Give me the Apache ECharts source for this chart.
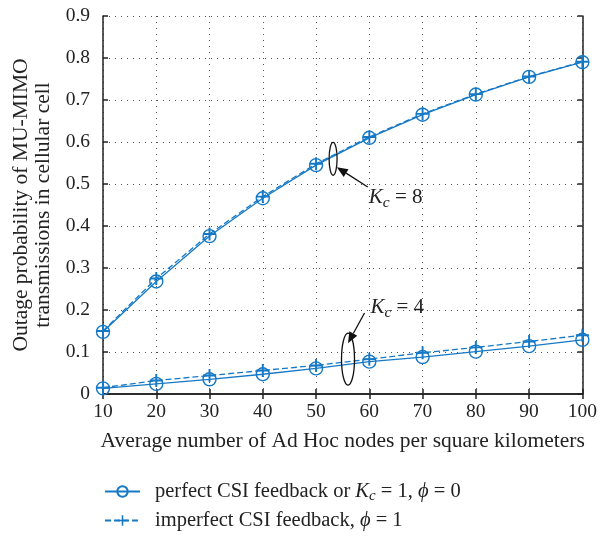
<!DOCTYPE html>
<html><head><meta charset="utf-8">
<script src="https://cdn.jsdelivr.net/npm/echarts@6/dist/echarts.min.js"></script>
<style>html,body{margin:0;padding:0;background:#fff}#c{width:600px;height:537px}</style>
</head><body><div id="c"></div>
<script>
const xValues = [10, 20, 30, 40, 50, 60, 70, 80, 90, 100];
const kc8Perfect   = [0.148, 0.268, 0.376, 0.466, 0.545, 0.610, 0.665, 0.713, 0.755, 0.790];
const kc8Imperfect = [0.150, 0.275, 0.381, 0.470, 0.548, 0.612, 0.667, 0.714, 0.756, 0.791];
const kc4Perfect   = [0.0135, 0.024, 0.035, 0.047, 0.061, 0.077, 0.088, 0.101, 0.114, 0.129];
const kc4Imperfect = [0.015, 0.032, 0.044, 0.056, 0.068, 0.083, 0.098, 0.111, 0.125, 0.140];
const yTicks = [0, 0.1, 0.2, 0.3, 0.4, 0.5, 0.6, 0.7, 0.8, 0.9];
const seriesNames = ['perfect', 'imperfect'];
// annotation anchors (data coordinates)
const ell8 = [53.2, 0.56];
const ell4 = [56.0, 0.083];
const arrow8 = [[59.7, 0.493], [53.9, 0.540]];
const arrow4 = [[59.1, 0.193], [56.0, 0.121]];
const label8 = [59.9, 0.469];
const label4 = [60.2, 0.205];

const BLUE = '#1679c6';
const FONT = '"Liberation Serif", "DejaVu Serif", serif';
const plusPath = 'path://M4.25,0H5.75V4.25H10V5.75H5.75V10H4.25V5.75H0V4.25H4.25Z';

function zip(a) { return xValues.map((x, i) => [x, a[i]]); }
function mk(name, data, dashed) {
  return {
    name: name, type: 'line', data: zip(data),
    symbol: dashed ? plusPath : 'circle',
    symbolSize: 13,
    showAllSymbol: true,
    lineStyle: { color: BLUE, width: 1.3, type: dashed ? [6, 3] : 'solid' },
    itemStyle: dashed ? { color: BLUE } : { color: 'rgba(255,255,255,0)', borderColor: BLUE, borderWidth: 1.4 },
    z: dashed ? 3 : 2,
    animation: false
  };
}
const legendText = {
  fontFamily: FONT, fontSize: 20.5, color: '#222', padding: [0, 0, 0, 10],
  rich: {
    i: { fontFamily: FONT, fontSize: 20.5, fontStyle: 'italic', color: '#222' },
    s: { fontFamily: FONT, fontSize: 15, fontStyle: 'italic', color: '#222', padding: [10, 0, 0, 0] }
  }
};
function legendFmt(n) {
  return n === 'perfect'
    ? 'perfect CSI feedback or {i|K}{s|c} = 1, {i|ϕ} = 0'
    : 'imperfect CSI feedback, {i|ϕ} = 1';
}

const chart = echarts.init(document.getElementById('c'));
const axText = { fontFamily: FONT, fontSize: 19.5, color: '#222' };
chart.setOption({
  animation: false,
  grid: { left: 103, right: 15, top: 16, bottom: 143, containLabel: false },
  xAxis: [{
    type: 'value', min: 10, max: 100, interval: 10,
    name: 'Average number of Ad Hoc nodes per square kilometers',
    nameLocation: 'middle', nameGap: 36,
    nameTextStyle: { fontFamily: FONT, fontSize: 21.5, color: '#222' },
    axisLine: { lineStyle: { color: '#222', width: 1.5 } },
    axisTick: { inside: true, length: 5, lineStyle: { color: '#222', width: 1.5 } },
    axisLabel: Object.assign({ margin: 8 }, axText),
    splitLine: { show: true, lineStyle: { color: '#555', type: [1, 5], width: 1 } }
  }, {
    type: 'value', position: 'top', min: 10, max: 100, interval: 10,
    axisLine: { show: true, lineStyle: { color: '#222', width: 1.5 } },
    axisTick: { inside: true, length: 5, lineStyle: { color: '#222', width: 1.5 } },
    axisLabel: { show: false }, splitLine: { show: false }
  }],
  yAxis: [{
    type: 'value', min: 0, max: 0.9, interval: 0.1,
    name: 'Outage probability of MU-MIMO\ntransmissions in cellular cell',
    nameLocation: 'middle', nameGap: 42,
    nameTextStyle: { fontFamily: FONT, fontSize: 21.5, color: '#222', lineHeight: 22 },
    axisLine: { show: true, lineStyle: { color: '#222', width: 1.5 } },
    axisTick: { inside: true, length: 5, lineStyle: { color: '#222', width: 1.5 } },
    axisLabel: Object.assign({ margin: 13, formatter: v => {
      const t = yTicks.find(t => Math.abs(t - v) < 1e-9);
      return t === 0 ? '0' : (t !== undefined ? t.toFixed(1) : '');
    } }, axText),
    splitLine: { show: true, lineStyle: { color: '#555', type: [1, 5], width: 1 } }
  }, {
    type: 'value', position: 'right', min: 0, max: 0.9, interval: 0.1,
    axisLine: { show: true, lineStyle: { color: '#222', width: 1.5 } },
    axisTick: { inside: true, length: 5, lineStyle: { color: '#222', width: 1.5 } },
    axisLabel: { show: false }, splitLine: { show: false }
  }],
  legend: [{
    orient: 'horizontal', left: 99, top: 476,
    itemWidth: 35, itemHeight: 13,
    data: [seriesNames[0]], formatter: legendFmt, textStyle: legendText
  }, {
    orient: 'horizontal', left: 99, top: 505,
    itemWidth: 35, itemHeight: 13,
    data: [seriesNames[1]], formatter: legendFmt, textStyle: legendText
  }],
  series: [
    mk('perfect', kc8Perfect, false),
    mk('imperfect', kc8Imperfect, true),
    mk('perfect', kc4Perfect, false),
    mk('imperfect', kc4Imperfect, true)
  ]
});

function px(p) { return chart.convertToPixel({ xAxisIndex: 0, yAxisIndex: 0 }, p); }
function arrowEls(a) {
  const t = px(a[0]), h = px(a[1]);
  const dx = h[0] - t[0], dy = h[1] - t[1];
  const L = Math.hypot(dx, dy), ux = dx / L, uy = dy / L;
  const hl = 11, hw = 4.5;
  const bx = h[0] - ux * hl, by = h[1] - uy * hl;
  return [
    { type: 'line', shape: { x1: t[0], y1: t[1], x2: bx, y2: by }, style: { stroke: '#111', lineWidth: 1.3 }, z: 10 },
    { type: 'polygon', shape: { points: [h, [bx - uy * hw, by + ux * hw], [bx + uy * hw, by - ux * hw]] }, style: { fill: '#111' }, z: 10 }
  ];
}
function labelEl(p, n) {
  const q = px(p);
  return {
    type: 'text', x: q[0], y: q[1], z: 10,
    style: {
      text: '{i|K}{s|c} = ' + n, fontFamily: FONT, fontSize: 21, fill: '#222',
      verticalAlign: 'middle', align: 'left',
      rich: {
        i: { fontFamily: FONT, fontSize: 21, fontStyle: 'italic', fill: '#222' },
        s: { fontFamily: FONT, fontSize: 15.5, fontStyle: 'italic', fill: '#222', padding: [11, 0, 0, 0] }
      }
    }
  };
}
const e8 = px(ell8), e4 = px(ell4);
chart.setOption({
  graphic: [
    { type: 'ellipse', shape: { cx: e8[0], cy: e8[1], rx: 4, ry: 16.5 }, style: { fill: 'none', stroke: '#111', lineWidth: 1.3 }, z: 10 },
    { type: 'ellipse', shape: { cx: e4[0], cy: e4[1], rx: 6.5, ry: 26 }, style: { fill: 'none', stroke: '#111', lineWidth: 1.3 }, z: 10 }
  ].concat(arrowEls(arrow8), arrowEls(arrow4), [labelEl(label8, 8), labelEl(label4, 4)])
});
</script></body></html>
